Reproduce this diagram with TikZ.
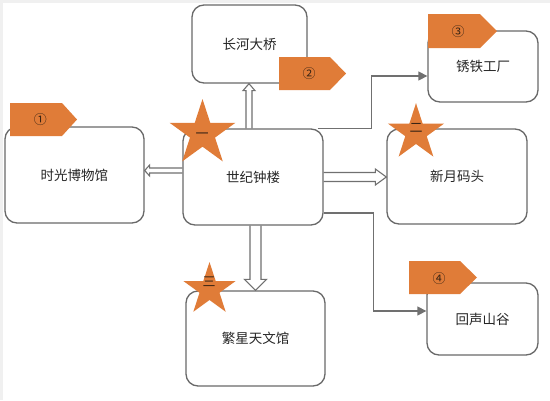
\documentclass[tikz,border=0pt]{standalone}
\usepackage{fontspec}
\newfontfamily\cjk{Noto Sans CJK SC}
\usetikzlibrary{shapes.geometric,arrows.meta,calc}
\pgfdeclarelayer{back}
\pgfdeclarelayer{bg}
\pgfsetlayers{back,bg,main}
\definecolor{tagor}{RGB}{224,124,56}
\definecolor{boxln}{RGB}{105,105,105}
\definecolor{lnk}{RGB}{112,112,112}
\definecolor{numc}{RGB}{55,35,20}
\begin{document}
\begin{tikzpicture}[x=1pt,y=-1pt,
 place/.style={draw=boxln, line width=1.3pt, fill=white, rounded corners=12pt, inner sep=0pt, font=\cjk\fontsize{13.5}{15}\selectfont, text=black!85},
 blockarr/.style={draw=lnk, line width=1.1pt, fill=white, line join=miter},
 elbow/.style={draw=lnk, line width=1.3pt, -{Triangle[length=9pt,width=9pt]}},
 tagshape/.style={fill=tagor},
 tagtext/.style={font=\cjk\fontsize{13}{15}\selectfont, text=numc, inner sep=0pt},
 starshape/.style={star, star points=5, star point ratio=2.618, fill=tagor, inner sep=0pt},
]
\useasboundingbox (0,0) rectangle (550,400);
\begin{pgfonlayer}{back}
\fill[white] (0,0) rectangle (550,400);
\fill[black!6] (0,0) rectangle (550,3);
\fill[black!6] (0,0) rectangle (3,400);
\end{pgfonlayer}

% boxes
\node[place, minimum width=139pt, minimum height=96pt] (A) at (74.5,175) {时光博物馆};
\node[place, minimum width=115pt, minimum height=78pt] (B) at (249.5,44) {长河大桥};
\node[place, minimum width=140pt, minimum height=96pt] (C) at (253,177) {世纪钟楼};
\node[place, minimum width=110pt, minimum height=71pt] (D) at (483,66.5) {锈铁工厂};
\node[place, minimum width=140pt, minimum height=95pt] (E) at (457,176.5) {新月码头};
\node[place, minimum width=139pt, minimum height=95pt] (F) at (255.5,338.5) {繁星天文馆};
\node[place, minimum width=111pt, minimum height=72pt] (G) at (482.5,319) {回声山谷};

\begin{pgfonlayer}{bg}
% right block arrow C -> E
\coordinate (rs) at (C.east);
\coordinate (rt) at (E.west |- C.east);
\path[blockarr] ($(rs)+(0,-4.5)$) -- ($(rt)+(-11,-4.5)$) -- ($(rt)+(-11,-8)$) -- (rt) -- ($(rt)+(-11,8)$) -- ($(rt)+(-11,4.5)$) -- ($(rs)+(0,4.5)$);
% left block arrow C -> A
\coordinate (ls) at ($(C.west)+(0,-6.5)$);
\coordinate (lt) at (A.east |- ls);
\path[blockarr] ($(ls)+(0,-2.5)$) -- ($(lt)+(5,-2.5)$) -- ($(lt)+(5,-5.5)$) -- (lt) -- ($(lt)+(5,5.5)$) -- ($(lt)+(5,2.5)$) -- ($(ls)+(0,2.5)$);
% up block arrow C -> B
\coordinate (us) at ($(C.north)+(-4,0)$);
\coordinate (ut) at (B.south -| us);
\path[blockarr] ($(us)+(-3,0)$) -- ($(ut)+(-3,7)$) -- ($(ut)+(-6,7)$) -- (ut) -- ($(ut)+(6,7)$) -- ($(ut)+(3,7)$) -- ($(us)+(3,0)$);
% down block arrow C -> F
\coordinate (ds) at ($(C.south)+(2.5,0)$);
\coordinate (dt) at (F.north -| ds);
\path[blockarr] ($(ds)+(-5.5,0)$) -- ($(dt)+(-5.5,-11)$) -- ($(dt)+(-11,-11)$) -- (dt) -- ($(dt)+(11,-11)$) -- ($(dt)+(5.5,-11)$) -- ($(ds)+(5.5,0)$);
% elbow C -> D
\coordinate (e1s) at ($(C.north east)+(-6,0)$);
\coordinate (e1k) at ($(C.north east)+(48,0)$);
\coordinate (e1t) at ($(D.west)+(0,9.5)$);
\draw[elbow] (e1s) -- (e1k) |- (e1t);
% elbow C -> G
\coordinate (e2s) at ($(C.east)+(0,36)$);
\coordinate (e2k) at ($(C.east)+(50,36)$);
\coordinate (e2t) at ($(G.west)+(0,-8)$);
\draw[elbow] (e2s) -- (e2k) |- (e2t);
\end{pgfonlayer}

% tags
\fill[tagshape] (10,103) -- (62,103) -- (77,119.5) -- (62,136) -- (10,136) -- cycle;
\node[tagtext] (n1) at (40.5,120) {①};
\fill[tagshape] (279,57) -- (330,57) -- (346,73.5) -- (330,90) -- (279,90) -- cycle;
\node[tagtext] (n2) at (309,73.5) {②};
\fill[tagshape] (428,14) -- (480,14) -- (497,31) -- (480,48) -- (428,48) -- cycle;
\node[tagtext] (n3) at (458,32) {③};
\fill[tagshape] (409,261) -- (460,261) -- (477,277.5) -- (460,294) -- (409,294) -- cycle;
\node[tagtext] (n4) at (439,279) {④};

% stars
\node[starshape, minimum size=69pt] (s1) at (202.5,133.5) {};
\node[tagtext] (s1t) at (202,136) {一};
\node[starshape, minimum size=59pt] (s2) at (416,132.7) {};
\node[tagtext] (s2t) at (416,128) {二};
\node[starshape, minimum size=55pt] (s3) at (209.5,289.5) {};
\node[tagtext] (s3t) at (209,282) {三};
\end{tikzpicture}
\end{document}
